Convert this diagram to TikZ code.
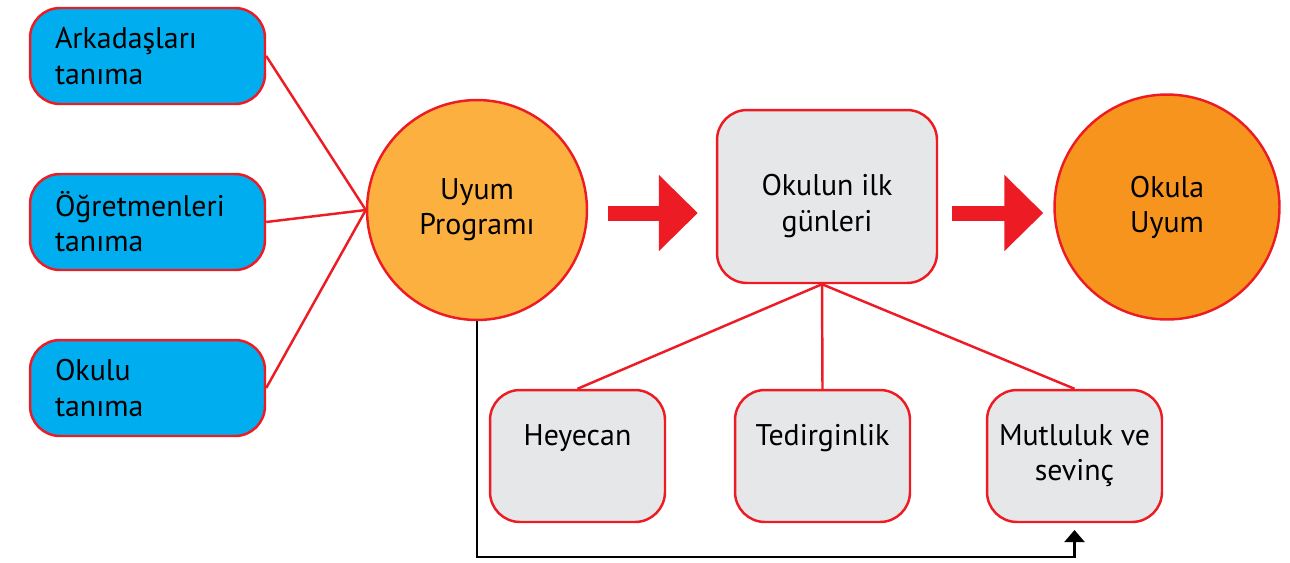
\documentclass[tikz,border=0pt]{standalone}
\usepackage{fontspec}
\setmainfont{PT Sans}
\usetikzlibrary{arrows.meta}
\definecolor{kred}{HTML}{ED1C24}
\definecolor{kblue}{HTML}{00AEEF}
\definecolor{kgray}{HTML}{E6E7E8}
\definecolor{korl}{HTML}{FBB040}
\definecolor{kor}{HTML}{F7941D}
\tikzset{
  txt/.style={font=\fontsize{17}{20}\selectfont},
  bluebox/.style={txt,draw=kred,line width=1.4pt,fill=kblue,rounded corners=0.6cm,
    minimum width=4.7cm,minimum height=1.92cm,text width=3.7cm,align=left,inner xsep=0.5cm},
  graybox/.style={draw=kred,line width=1.4pt,fill=kgray,rounded corners=0.6cm},
  bigcircle/.style={txt,draw=kred,line width=1.4pt,circle,minimum size=4.4cm,align=center},
  redline/.style={kred,line width=1.4pt},
  bigarrow/.style={kred,line width=0.3cm,-{Triangle[length=0.78cm,width=1.48cm]}},
  loopline/.style={black,line width=1.3pt,-{Triangle[length=0.24cm,width=0.4cm]}}
}
\begin{document}
\begin{tikzpicture}[x=0.02cm,y=-0.02cm]
  \useasboundingbox (0,0) rectangle (1290,562);

  % left column
  \node[bluebox] (ark) at (147.5,56) {Arkadaşları\\tanıma};
  \node[bluebox] (ogr) at (147.5,222) {Öğretmenleri\\tanıma};
  \node[bluebox] (oku) at (147.5,388) {Okulu\\tanıma};

  % main row
  \node[bigcircle,fill=korl] (prog) at (477,210) {Uyum\\Programı};
  \node[graybox,minimum width=4.4cm,minimum height=3.46cm] (ilk) at (827,196.5) {};
  \node[txt,align=center,inner sep=0pt] (ilkt) at (827,206) {Okulun ilk\\günleri};
  \node[bigcircle,fill=kor,minimum size=4.5cm] (uyum) at (1167,207) {Okula\\Uyum};

  % feelings
  \node[graybox,minimum width=3.5cm,minimum height=2.64cm] (hey) at (577.5,456) {};
  \node[graybox,minimum width=3.5cm,minimum height=2.64cm] (ted) at (822.5,456) {};
  \node[graybox,minimum width=3.5cm,minimum height=2.64cm] (mut) at (1074.5,456) {};
  \node[txt,anchor=north,inner sep=0pt] (heyt) at (577.5,424) {Heyecan};
  \node[txt,anchor=north,inner sep=0pt] (tedt) at (822.5,424) {Tedirginlik};
  \node[txt,anchor=north,inner sep=0pt,align=center] (mutt) at (1074.5,424) {Mutluluk ve\\sevinç};

  % connectors
  \foreach \n in {ark,ogr,oku} {
    \draw[redline] (\n.east) -- (prog.west);
  }
  \coordinate (ilkfoot) at ([xshift=-0.1cm]ilk.south);
  \foreach \n in {hey,ted,mut} {
    \draw[redline] (ilkfoot) -- (\n.north);
  }
  \draw[bigarrow,shorten <=0.4cm,shorten >=0.36cm] (prog.east |- 0,213) -- (ilk.west |- 0,213);
  \draw[bigarrow,shorten <=0.28cm,shorten >=0.2cm] (ilk.east |- 0,213) -- (uyum.west |- 0,213);

  \coordinate (loopend) at (1074.5,530);
  \draw[loopline] (prog.south) |- (loopend |- 0,557) -- (loopend);
\end{tikzpicture}
\end{document}
